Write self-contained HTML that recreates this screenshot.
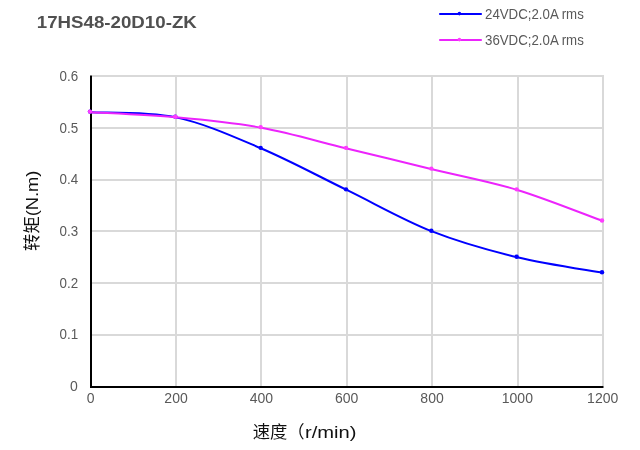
<!DOCTYPE html>
<html lang="zh"><head><meta charset="utf-8"><title>17HS48-20D10-ZK</title>
<style>
html,body{margin:0;padding:0;background:#fff;}
body{width:640px;height:450px;overflow:hidden;}
svg{display:block;}
text{font-family:"Liberation Sans","Noto Sans CJK SC",sans-serif;}
.tick{font-size:14px;fill:#595959;}
.leg{font-size:14px;fill:#595959;}
.ttl{font-size:17px;font-weight:bold;fill:#505050;}
.ax{font-size:17.33px;fill:#111;}
</style></head><body>
<svg width="640" height="450" viewBox="0 0 640 450">
<rect width="640" height="450" fill="#fff"/>
<g stroke="#d9d9d9" stroke-width="2" fill="none"><line x1="92" y1="335" x2="604" y2="335"/><line x1="92" y1="283" x2="604" y2="283"/><line x1="92" y1="231" x2="604" y2="231"/><line x1="92" y1="180" x2="604" y2="180"/><line x1="92" y1="128" x2="604" y2="128"/><line x1="92" y1="76" x2="604" y2="76"/><line x1="176" y1="75" x2="176" y2="386"/><line x1="261" y1="75" x2="261" y2="386"/><line x1="347" y1="75" x2="347" y2="386"/><line x1="432" y1="75" x2="432" y2="386"/><line x1="518" y1="75" x2="518" y2="386"/><line x1="603" y1="75" x2="603" y2="386"/></g>
<g stroke="#000" stroke-width="2" fill="none"><line x1="91.00" y1="75.50" x2="91.00" y2="388.00"/><line x1="90.00" y1="387.00" x2="603.50" y2="387.00"/></g>
<path d="M90.70,112.18 C104.92,113.05 147.59,111.32 176.03,117.37 C204.48,123.41 232.92,136.37 261.37,148.47 C289.81,160.56 318.26,176.11 346.70,189.93 C375.14,203.76 403.59,220.17 432.03,231.40 C460.48,242.63 488.92,250.41 517.37,257.32 C545.81,264.23 588.48,270.27 602.70,272.87" fill="none" stroke="#0000ff" stroke-width="2" stroke-linecap="round" stroke-linejoin="round"/>
<g fill="#0000ff"><circle cx="90.00" cy="111.58" r="2.2"/><circle cx="175.33" cy="116.77" r="2.2"/><circle cx="260.67" cy="147.87" r="2.2"/><circle cx="346.00" cy="189.33" r="2.2"/><circle cx="431.33" cy="230.80" r="2.2"/><circle cx="516.67" cy="256.72" r="2.2"/><circle cx="602.00" cy="272.27" r="2.2"/></g>
<path d="M90.70,112.18 C104.92,113.05 147.59,114.77 176.03,117.37 C204.48,119.96 232.92,122.55 261.37,127.73 C289.81,132.92 318.26,141.56 346.70,148.47 C375.14,155.38 403.59,162.29 432.03,169.20 C460.48,176.11 488.92,181.29 517.37,189.93 C545.81,198.57 588.48,215.85 602.70,221.03" fill="none" stroke="#ec24fc" stroke-width="2" stroke-linecap="round" stroke-linejoin="round"/>
<g fill="#ff3cff"><circle cx="90.00" cy="111.58" r="2.2"/><circle cx="175.33" cy="116.77" r="2.2"/><circle cx="260.67" cy="127.13" r="2.2"/><circle cx="346.00" cy="147.87" r="2.2"/><circle cx="431.33" cy="168.60" r="2.2"/><circle cx="516.67" cy="189.33" r="2.2"/><circle cx="602.00" cy="220.43" r="2.2"/></g>
<text class="tick" x="69.9" y="391.10">0</text>
<text class="tick" x="59.6" y="338.90" textLength="18.6" lengthAdjust="spacingAndGlyphs">0.1</text>
<text class="tick" x="59.6" y="287.70" textLength="18.6" lengthAdjust="spacingAndGlyphs">0.2</text>
<text class="tick" x="59.6" y="235.90" textLength="18.6" lengthAdjust="spacingAndGlyphs">0.3</text>
<text class="tick" x="59.6" y="184.20" textLength="18.6" lengthAdjust="spacingAndGlyphs">0.4</text>
<text class="tick" x="59.6" y="132.80" textLength="18.6" lengthAdjust="spacingAndGlyphs">0.5</text>
<text class="tick" x="59.6" y="81.00" textLength="18.6" lengthAdjust="spacingAndGlyphs">0.6</text>
<text class="tick" x="90.70" y="403" text-anchor="middle">0</text>
<text class="tick" x="176.03" y="403" text-anchor="middle">200</text>
<text class="tick" x="261.37" y="403" text-anchor="middle">400</text>
<text class="tick" x="346.70" y="403" text-anchor="middle">600</text>
<text class="tick" x="432.03" y="403" text-anchor="middle">800</text>
<text class="tick" x="517.37" y="403" text-anchor="middle">1000</text>
<text class="tick" x="602.70" y="403" text-anchor="middle">1200</text>
<text class="ttl" x="36.8" y="28.2" textLength="160" lengthAdjust="spacingAndGlyphs">17HS48-20D10-ZK</text>
<text class="ax" y="437.8"><tspan x="252.7">速度（</tspan><tspan x="305" textLength="51.5" lengthAdjust="spacingAndGlyphs">r/min)</tspan></text>
<text class="ax" transform="translate(37.8,250.9) rotate(-90)"><tspan x="0">转矩</tspan><tspan x="34.7" textLength="45.6" lengthAdjust="spacingAndGlyphs">(N.m)</tspan></text>
<line x1="439.2" y1="14" x2="481.8" y2="14" stroke="#0000ff" stroke-width="2"/><circle cx="459.4" cy="13.6" r="1.8" fill="#0000ff"/>
<text class="leg" x="485" y="18.9" textLength="98.8" lengthAdjust="spacingAndGlyphs">24VDC;2.0A rms</text>
<line x1="439.2" y1="40" x2="481.8" y2="40" stroke="#ec24fc" stroke-width="2"/><circle cx="459.4" cy="39.6" r="1.8" fill="#ff3cff"/>
<text class="leg" x="485" y="45" textLength="98.8" lengthAdjust="spacingAndGlyphs">36VDC;2.0A rms</text>
</svg></body></html>
